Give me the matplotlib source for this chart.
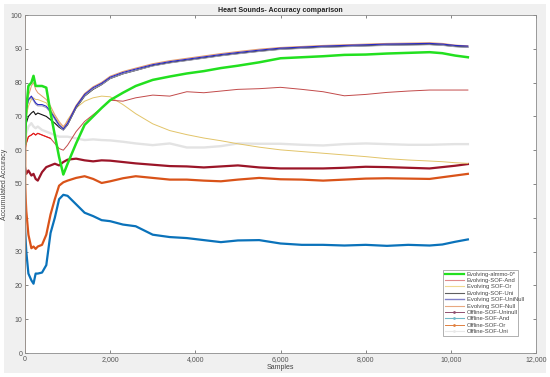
import matplotlib
matplotlib.use("Agg")
import matplotlib.pyplot as plt
from matplotlib.lines import Line2D
from matplotlib.patches import Rectangle
from matplotlib.ticker import FuncFormatter

plt.rcParams['font.family'] = ['Liberation Sans', 'DejaVu Sans']

# ---------------- data ----------------
samples = [0, 30, 80, 150, 200, 250, 300, 400, 500, 600, 700, 800, 900, 1000,
           1200, 1400, 1600, 1800, 2000, 2300, 2600, 3000, 3400, 3800, 4200,
           4600, 5000, 5500, 6000, 6500, 7000, 7500, 8000, 8500, 9000, 9500,
           9800, 10100, 10400]

almmo = [62, 72, 79, 80, 82, 79, 79, 79, 78.5, 71, 64.5, 58, 52.8, 56,
         62, 67.5, 70, 72.5, 74.8, 77, 79, 80.8, 81.8, 82.7, 83.4,
         84.3, 85, 86, 87.2, 87.5, 87.8, 88.2, 88.3, 88.6, 88.8, 89.0,
         88.7, 88.0, 87.5]

sof_and = [60, 62, 64, 64.5, 65, 64.5, 65, 64.5, 64, 63.5, 62, 60.5, 60, 61.5,
           65.5, 68.5, 70.5, 72.5, 74.8, 74.5, 75.5, 76.3, 76, 77.3, 77,
           77.5, 78, 78.2, 78.6, 78, 77.3, 76.1, 76.5, 77.1, 77.5, 77.8,
           77.8, 77.8, 77.8]

sof_or = [66, 70, 73, 75, 75.5, 75, 75, 74.5, 74, 72, 70, 68, 66.5, 69,
          72.5, 74.5, 75.5, 76, 75.8, 73.5, 70.8, 67.8, 65.8, 64.6, 63.6,
          62.8, 61.9, 60.9, 60.1, 59.6, 59.1, 58.6, 58.1, 57.5, 57.1, 56.8,
          56.6, 56.3, 56.1]

sof_uninull = [68, 72, 75, 76, 75, 74, 73.5, 73.5, 73, 71.5, 69.5, 67.5, 66.3, 68,
               73, 76.5, 78.5, 79.8, 81.6, 83, 84, 85.3, 86.2, 86.9, 87.6,
               88.3, 88.9, 89.6, 90.2, 90.5, 90.8, 91, 91.2, 91.4, 91.5, 91.6,
               91.4, 91, 90.8]

sof_uni = [65, 68, 70, 71, 71.5, 70.5, 71, 70.5, 70, 69, 68, 66.8, 66, 67.5,
           72.5, 76, 78, 79.4, 81.2, 82.6, 83.6, 85, 85.9, 86.6, 87.3,
           88, 88.6, 89.3, 89.9, 90.2, 90.5, 90.7, 90.9, 91.1, 91.2, 91.3,
           91.1, 90.7, 90.5]

null_x = [0, 2] + samples[1:]
sof_null = [100, 0, 70, 76, 79, 80, 78, 77, 76, 75, 73, 70.5, 68.5, 67, 68.5,
            73.3, 76.8, 78.8, 80.1, 81.9, 83.3, 84.3, 85.6, 86.5, 87.2, 87.9,
            88.6, 89.2, 89.9, 90.4, 90.7, 91.0, 91.2, 91.4, 91.6, 91.7, 91.8,
            91.6, 91.1, 90.9]

off_uni = [62, 65, 67, 68, 67, 66.5, 67, 66, 65.5, 65, 64.5, 64, 64, 64,
           63.5, 63, 63.2, 63, 62.9, 62.5, 62, 61.5, 62, 60.8, 60.8,
           61.2, 62, 61.9, 61.9, 61.6, 61.4, 61.8, 62, 61.8, 61.6, 61.6,
           61.7, 61.8, 61.8]

off_uninull = [55, 53, 54, 52.5, 53, 51.5, 51, 53.5, 55, 55.5, 56, 55.5, 56.5, 57.2,
               57.5, 57, 56.7, 57, 56.9, 56.5, 56.1, 55.7, 55.3, 55.2, 54.9,
               55.2, 55.5, 54.9, 54.6, 54.6, 54.6, 54.8, 55.1, 55.0, 54.8, 54.6,
               55, 55.4, 55.9]

off_or = [50, 42, 35, 31, 31.5, 30.8, 31.5, 32, 35, 41, 45.5, 49.5, 50.5, 51,
          51.8, 52.3, 51.5, 50.3, 50.8, 51.7, 52.3, 51.8, 51.3, 51.3, 51,
          50.8, 51.3, 51.8, 51.4, 51.3, 51, 51.3, 51.6, 51.7, 51.6, 51.5,
          52, 52.5, 53]

off_and = [37, 30, 23.5, 21.5, 20.5, 23.5, 23.5, 23.8, 26, 35.5, 40, 45.5, 46.8, 46.5,
           44, 41.5, 40.5, 39.3, 39, 38, 37.5, 35, 34.3, 34, 33.4,
           32.8, 33.3, 33.4, 32.4, 32, 32, 31.8, 32, 31.7, 32, 31.8,
           32.1, 32.9, 33.6]

legend_labels = ["Evolving-almmo-0*", "Evolving-SOF-And", "Evolving SOF-Or",
                 "Evolving-SOF-Uni", "Evolving SOF-UniNull", "Evolving SOF-Null",
                 "Offline-SOF-Uninull", "Offline-SOF-And", "Offline-SOF-Or",
                 "Offline-SOF-Uni"]

x_ticks = [0, 2000, 4000, 6000, 8000, 10000, 12000]
y_ticks = [0, 10, 20, 30, 40, 50, 60, 70, 80, 90, 100]

# ---------------- figure ----------------
fig = plt.figure(figsize=(5.5, 3.77), dpi=100, facecolor='white')
fig.patches.append(Rectangle((4/550, 4/377), 542/550, 369/377,
                             transform=fig.transFigure, facecolor='#f0f0f0',
                             edgecolor='none', zorder=-10))
ax = fig.add_axes([25/550, 1 - 353/377, 511/550, 338/377])
ax.set_facecolor('white')

ax.plot(samples, off_uni, color='#e3e3e3', lw=1.7)
ax.plot(samples, off_uninull, color='#9b1528', lw=1.6)
ax.plot(samples, off_or, color='#d95319', lw=1.6)
ax.plot(samples, off_and, color='#0a72ba', lw=1.6)
ax.plot(samples, sof_or, color='#e2c469', lw=0.7)
ax.plot(samples, sof_and, color='#c24a4a', lw=0.7)
ax.plot(samples[:10], sof_and[:10], color='#e81818', lw=0.8)
ax.plot(samples, sof_uni, color='#111111', lw=0.8)
ax.plot(samples, [v - 0.4 for v in sof_uninull], color='#9a9ab4', lw=0.7)
ax.plot(null_x, sof_null, color='#e39a6a', lw=0.7)
ax.plot(samples, sof_uninull, color='#2a2ac4', lw=0.8)
ax.plot(samples, almmo, color='#22e01f', lw=1.8)

ax.set_xlim(0, 12000)
ax.set_ylim(0, 100)
ax.set_xticks(x_ticks)
ax.set_yticks(y_ticks)
ax.xaxis.set_major_formatter(FuncFormatter(lambda v, p: f"{int(v):,}"))
ax.tick_params(direction='in', length=2.5, width=0.5, colors='#555555',
               labelsize=5, top=True, right=True, pad=2)
for s in ax.spines.values():
    s.set_color('#8c8c8c')
    s.set_linewidth(0.6)

ax.set_title("Heart Sounds- Accuracy comparison", fontsize=5.1,
             fontweight='bold', color='#222222', pad=2.5)
ax.set_xlabel("Samples", fontsize=5, color='#444444', labelpad=1)
ax.set_ylabel("Accumulated Accuracy", fontsize=5, color='#444444', labelpad=2)

leg_styles = [
    dict(color='#22e01f', lw=1.6, marker=None),
    dict(color='#e08a8a', lw=0.8, marker=None),
    dict(color='#f0d890', lw=0.8, marker=None),
    dict(color='#606060', lw=0.8, marker=None),
    dict(color='#8080c8', lw=1.0, marker=None),
    dict(color='#e8a880', lw=0.8, marker=None),
    dict(color='#905070', lw=0.7, marker='.', markersize=2),
    dict(color='#70b8c8', lw=0.8, marker='.', markersize=2),
    dict(color='#e08040', lw=0.7, marker='.', markersize=2),
    dict(color='#e8e8e8', lw=0.8, marker='.', markersize=2),
]
handles = [Line2D([0], [0], **st) for st in leg_styles]
leg = ax.legend(handles, legend_labels, loc='lower left',
                bbox_to_anchor=(0.818, 0.05, 0.147, 0.222), mode='expand',
                fontsize=4.2, handlelength=3.2, labelspacing=0.22,
                borderpad=0.35, handletextpad=0.5, frameon=True,
                fancybox=False, edgecolor='#8c8c8c', borderaxespad=0)
leg.get_frame().set_linewidth(0.6)
for t in leg.get_texts():
    t.set_color('#444444')

fig.savefig("out.png", dpi=100, facecolor=fig.get_facecolor())
